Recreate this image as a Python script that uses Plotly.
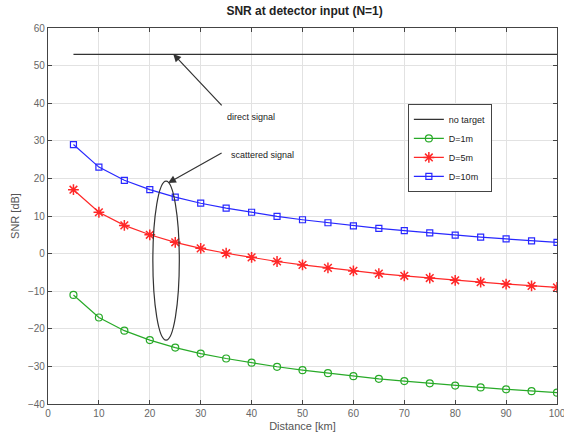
import plotly.graph_objects as go

distance = [5, 10, 15, 20, 25, 30, 35, 40, 45, 50, 55, 60, 65, 70, 75, 80, 85, 90, 95, 100]
no_target = [53] * len(distance)
d1 = [-11, -17, -20.5, -23, -25, -26.6, -27.9, -29, -30.1, -31, -31.8, -32.6, -33.3, -33.9, -34.5, -35.1, -35.6, -36.1, -36.6, -37]
d5 = [17, 11, 7.5, 5, 3, 1.4, 0.1, -1, -2.1, -3, -3.8, -4.6, -5.3, -5.9, -6.5, -7.1, -7.6, -8.1, -8.6, -9]
d10 = [29, 23, 19.5, 17, 15, 13.4, 12.1, 11, 9.9, 9, 8.2, 7.4, 6.7, 6.1, 5.5, 4.9, 4.4, 3.9, 3.4, 3]
x_ticks = list(range(0, 101, 10))
y_ticks = list(range(-40, 61, 10))

fig = go.Figure()
fig.add_trace(go.Scatter(x=distance, y=no_target, mode="lines", name="no target",
                         line=dict(color="#333333", width=1.3)))
fig.add_trace(go.Scatter(x=distance, y=d1, mode="lines+markers", name="D=1m",
                         line=dict(color="rgb(40,170,40)", width=1.2),
                         marker=dict(symbol="circle-open", size=7, color="rgb(40,170,40)", line=dict(width=1.2))))
fig.add_trace(go.Scatter(x=distance, y=d5, mode="lines+markers", name="D=5m",
                         line=dict(color="rgb(255,40,40)", width=1.2),
                         marker=dict(symbol="asterisk-open", size=9, color="rgb(255,40,40)", line=dict(width=1.5, color="rgb(255,40,40)"))))
fig.add_trace(go.Scatter(x=distance, y=d10, mode="lines+markers", name="D=10m",
                         line=dict(color="rgb(40,40,255)", width=1.2),
                         marker=dict(symbol="square-open", size=6, color="rgb(40,40,255)", line=dict(width=1.2))))

# ellipse around scattered signal
fig.add_shape(type="circle", xref="x", yref="y", x0=20.6, x1=25.8, y0=-23, y1=19.3,
              line=dict(color="#333333", width=1.2))

# arrows
fig.add_annotation(x=24.6, y=53.1, ax=34.4, ay=39, xref="x", yref="y", axref="x", ayref="y",
                   text="", showarrow=True, arrowhead=2, arrowsize=1.3, arrowwidth=1.2,
                   arrowcolor="#333333", standoff=0)
fig.add_annotation(x=23.6, y=18.8, ax=34.4, ay=27, xref="x", yref="y", axref="x", ayref="y",
                   text="", showarrow=True, arrowhead=2, arrowsize=1.3, arrowwidth=1.2,
                   arrowcolor="#333333", standoff=0)
fig.add_annotation(x=34.8, y=36.3, xref="x", yref="y", text="direct signal", showarrow=False,
                   xanchor="left", yanchor="middle", font=dict(size=9, color="#222222"))
fig.add_annotation(x=35.6, y=26.3, xref="x", yref="y", text="scattered signal", showarrow=False,
                   xanchor="left", yanchor="middle", font=dict(size=9, color="#222222"))

fig.update_layout(
    width=564, height=439,
    margin=dict(l=48, r=7, t=28, b=35),
    paper_bgcolor="white", plot_bgcolor="white",
    font=dict(family="Liberation Sans, Arial, sans-serif", size=10, color="#555555"),
    title=dict(text="<b>SNR at detector input (N=1)</b>", x=0.54, xanchor="center", y=0.985, yanchor="top",
               font=dict(size=12, color="#222222")),
    legend=dict(x=0.707, y=0.798, xanchor="left", yanchor="top", bgcolor="white",
                bordercolor="#444444", borderwidth=1, font=dict(size=9, color="#222222"),
                itemwidth=30, tracegroupgap=0),
    showlegend=True,
)
fig.update_xaxes(range=[0, 100], tickvals=x_ticks, showgrid=True, gridcolor="#e2e2e2", gridwidth=1,
                 showline=True, linecolor="#444444", linewidth=1.2, mirror="ticks",
                 ticks="inside", ticklen=4, tickcolor="#444444", zeroline=False,
                 ticklabeloverflow="allow", automargin=False,
                 title=dict(text="Distance [km]", standoff=4, font=dict(size=11, color="#555555")),
                 tickfont=dict(size=10, color="#666666"))
fig.update_yaxes(range=[-40, 60], tickvals=y_ticks, showgrid=True, gridcolor="#e2e2e2", gridwidth=1,
                 showline=True, linecolor="#444444", linewidth=1.2, mirror="ticks",
                 ticks="inside", ticklen=4, tickcolor="#444444", zeroline=False,
                 automargin=False,
                 title=dict(text="SNR [dB]", standoff=6, font=dict(size=11, color="#555555")),
                 tickfont=dict(size=10, color="#666666"))

fig.write_html("out.html")
